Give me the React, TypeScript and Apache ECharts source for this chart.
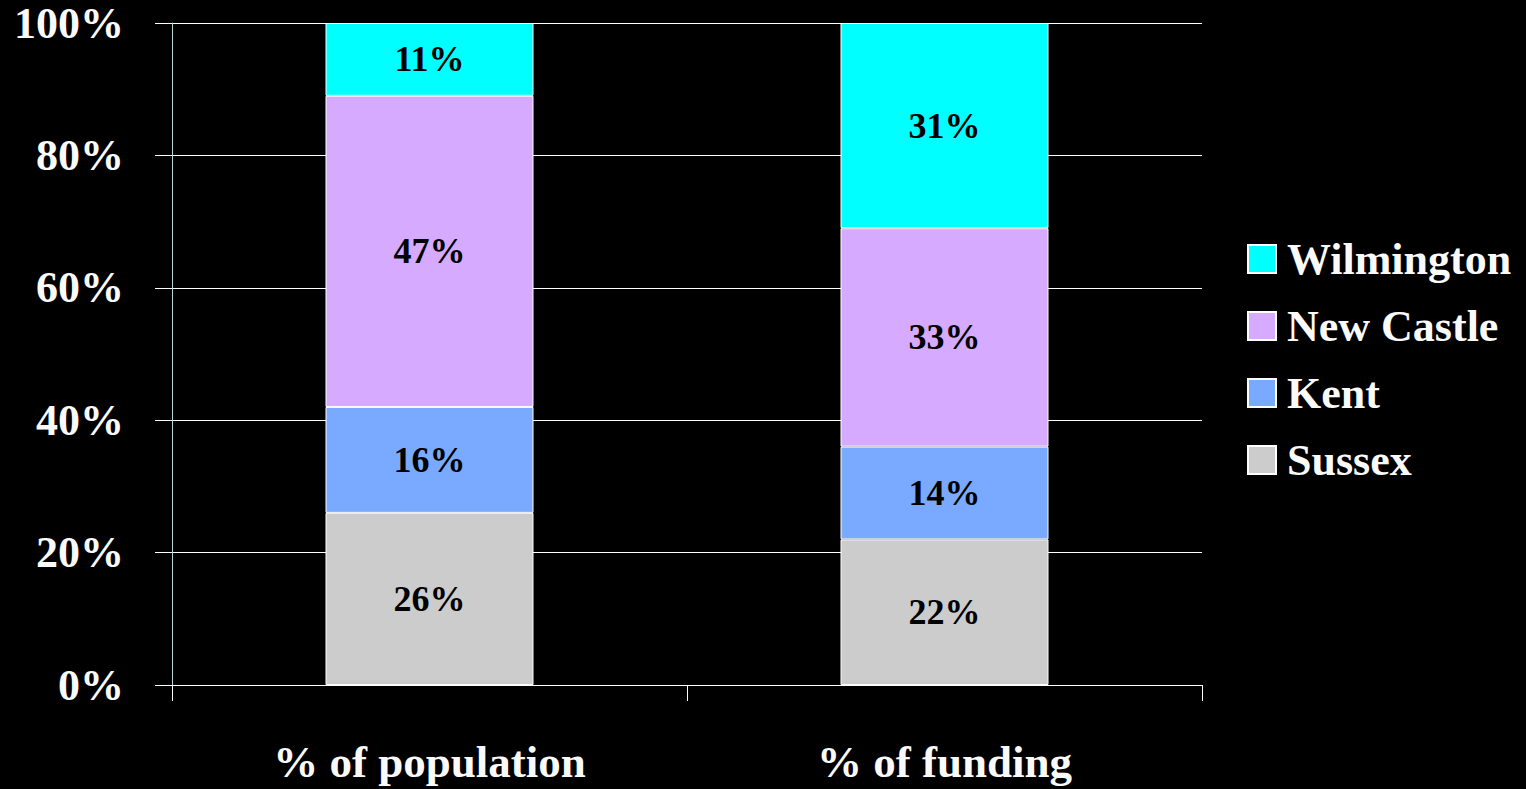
import React, { useEffect, useRef } from "react";
import * as echarts from "echarts";

const categories = ["% of population", "% of funding"];
const sussex = [26, 22];
const kent = [16, 14];
const newCastle = [47, 33];
const wilmington = [11, 31];
const legendOrder = ["Wilmington", "New Castle", "Kent", "Sussex"];

const FONT = "'Liberation Serif', 'Times New Roman', serif";

export default function App() {
  const ref = useRef<HTMLDivElement>(null);
  useEffect(() => {
    document.body.style.margin = "0";
    const chart = echarts.init(ref.current!, null, { renderer: "svg" });
    const mk = (name: string, data: number[], color: string) => ({
      name,
      type: "bar",
      stack: "total",
      data,
      barWidth: 208,
      itemStyle: { color, borderColor: "#ffffff", borderWidth: 1 },
      label: {
        show: true,
        position: "inside",
        formatter: "{c}%",
        color: "#000",
        fontFamily: FONT,
        fontWeight: "bold",
        fontSize: 36,
      },
    });
    chart.setOption({
      animation: false,
      backgroundColor: "#000",
      grid: { left: 172, right: 324, top: 23, bottom: 104, containLabel: false },
      legend: {
        data: legendOrder,
        orient: "vertical",
        left: 1242,
        top: 232,
        icon: "rect",
        itemWidth: 28,
        itemHeight: 28,
        itemGap: 23,
        textStyle: {
          color: "#fafafa",
          fontFamily: FONT,
          fontWeight: "bold",
          fontSize: 44,
          padding: [0, 0, 0, 6],
        },
      },
      xAxis: {
        type: "category",
        data: categories,
        axisLine: { show: true, lineStyle: { color: "#ffffff", width: 1 } },
        axisTick: { show: true, length: 16, lineStyle: { color: "#ffffff" } },
        axisLabel: {
          color: "#fafafa",
          fontFamily: FONT,
          fontWeight: "bold",
          fontSize: 45,
          margin: 54,
        },
      },
      yAxis: {
        type: "value",
        min: 0,
        max: 100,
        interval: 20,
        axisLine: { show: true, lineStyle: { color: "#b8d8d8", width: 1 } },
        axisTick: { show: true, length: 17, lineStyle: { color: "#ffffff" } },
        splitLine: { show: true, lineStyle: { color: "#ffffff", width: 1 } },
        axisLabel: {
          formatter: "{value}%",
          color: "#fafafa",
          fontFamily: FONT,
          fontWeight: "bold",
          fontSize: 44,
          margin: 48,
        },
      },
      series: [
        mk("Sussex", sussex, "#cccccc"),
        mk("Kent", kent, "#7aaaff"),
        mk("New Castle", newCastle, "#d6aaff"),
        mk("Wilmington", wilmington, "#00ffff"),
      ],
    });
    return () => chart.dispose();
  }, []);
  return (
    <div
      ref={ref}
      style={{ position: "absolute", left: 0, top: 0, width: 1526, height: 789 }}
    />
  );
}
